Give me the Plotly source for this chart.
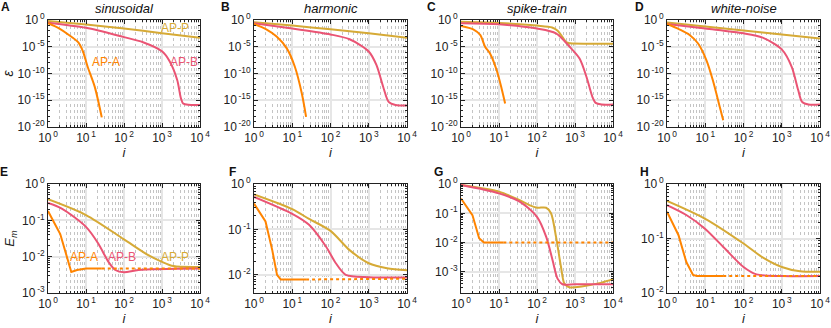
import plotly.graph_objects as go

# ---- data ----
titles = ["sinusoidal", "harmonic", "spike-train", "white-noise"]
letters_top = ["A", "B", "C", "D"]
letters_bot = ["E", "F", "G", "H"]

# top row: epsilon vs i
a_p_x = [1, 10, 100, 1000, 10000]
a_p_y = [6.3e-1, 1.4e-1, 2.5e-2, 3.5e-3, 5.0e-4]
a_b_x = [1, 10, 100, 316, 1000, 1585, 2512, 3162, 3600, 5000, 10000]
a_b_y = [3.2e-1, 3.5e-2, 6.3e-4, 7e-5, 1.4e-6, 2e-8, 6.3e-12, 2e-15, 2.5e-16, 1.4e-16, 1.3e-16]
a_a_x = [1, 2, 3.4, 6.2, 8.3, 11, 17, 26]
a_a_y = [2.5e-1, 2.5e-2, 2e-3, 7e-5, 1.4e-6, 2e-9, 3.2e-13, 6.3e-19]

b_p_x = [1, 10, 100, 1000, 10000]
b_p_y = [4e-1, 8.9e-2, 1.8e-2, 3.2e-3, 5e-4]
b_b_x = [1, 10, 100, 316, 1000, 1585, 2455, 3311, 5000, 10000]
b_b_y = [2.5e-1, 2.5e-2, 2e-3, 2.5e-4, 1.3e-6, 4e-9, 1.6e-13, 5e-16, 1.3e-16, 1e-16]
b_a_x = [1, 2.1, 3.9, 7.2, 11.7, 17.8, 23]
b_a_y = [1.8e-1, 1.8e-2, 8e-4, 5e-6, 1.8e-9, 1.8e-14, 8e-19]

c_p_x = [1, 10, 100, 250, 350, 480, 600, 750, 10000]
c_p_y = [4.5e-1, 2.8e-1, 8.9e-2, 4e-2, 1e-2, 5e-4, 6.3e-5, 4.5e-5, 3.5e-5]
c_b_x = [1, 10, 100, 316, 724, 1318, 2000, 2884, 3500, 5000, 10000]
c_b_y = [2.5e-1, 1.6e-1, 2.5e-2, 3.2e-3, 1e-5, 6.3e-8, 2.5e-11, 4e-15, 3.2e-16, 1.6e-16, 1.6e-16]
c_a_x = [1, 2.1, 3.2, 4.3, 5.8, 8.7, 11.7, 14.5]
c_a_y = [8e-2, 1.8e-2, 1.6e-3, 1e-5, 5.6e-7, 4e-10, 1.6e-13, 2.5e-16]

d_p_x = [1, 10, 100, 1000, 10000]
d_p_y = [3.5e-1, 6.3e-2, 1.1e-2, 2e-3, 3.5e-4]
d_b_x = [1, 10, 100, 316, 1000, 1820, 2690, 3400, 5000, 10000]
d_b_y = [1.8e-1, 2.5e-2, 3.2e-3, 5e-4, 3.2e-6, 1.8e-9, 8e-14, 5e-16, 1.6e-16, 1.6e-16]
d_a_x = [1, 2.1, 3.9, 6.5, 10.7, 15.8, 24, 29.5]
d_a_y = [1.8e-1, 1.8e-2, 1.6e-3, 4e-5, 3.2e-8, 5.6e-12, 5.6e-17, 1.8e-19]

# bottom row: E_m vs i
e_p_x = [1, 10, 100, 436, 1000, 2000, 10000]
e_p_y = [3.8e-1, 1.4e-1, 3e-2, 1.1e-2, 7.2e-3, 5.5e-3, 5.2e-3]
e_b_x = [1, 2.3, 10, 21, 39, 59, 100, 240, 10000]
e_b_y = [3e-1, 2.1e-1, 6.6e-2, 2.3e-2, 7.2e-3, 4.3e-3, 3.7e-3, 4.3e-3, 4.7e-3]
e_a_x = [1, 2.1, 4.1, 5.8, 10, 26]
e_a_y = [1.8e-1, 4.2e-2, 3.8e-3, 4.3e-3, 4.7e-3, 4.7e-3]
e_a_tail_x = [26, 10000]
e_a_tail_y = [4.7e-3, 4.7e-3]

f_p_x = [1, 10, 27.5, 100, 316, 1000, 3000, 10000]
f_p_y = [5.9e-1, 2.8e-1, 1.7e-1, 9.3e-2, 3.5e-2, 1.8e-2, 1.4e-2, 1.26e-2]
f_b_x = [1, 10, 27.5, 76, 138, 250, 1000, 10000]
f_b_y = [5.2e-1, 2.2e-1, 1.26e-1, 4.2e-2, 1.8e-2, 1e-2, 8.9e-3, 8.7e-3]
f_a_x = [1, 2, 3, 4, 5, 6, 23]
f_a_y = [3.7e-1, 1.5e-1, 3.5e-2, 1e-2, 7.9e-3, 7.9e-3, 7.9e-3]
f_a_tail_x = [23, 10000]
f_a_tail_y = [7.9e-3, 8.2e-3]

g_p_x = [1, 10, 35, 63, 100, 174, 234, 316, 427, 525, 708, 1500, 5000, 10000]
g_p_y = [9.3e-1, 5.5e-1, 2.8e-1, 1.9e-1, 1.55e-1, 1.55e-1, 1e-1, 1.6e-2, 1.5e-3, 4e-4, 3e-4, 3.2e-4, 4.3e-4, 5.6e-4]
g_b_x = [1, 10, 35, 100, 174, 257, 347, 468, 1000, 10000]
g_b_y = [9.3e-1, 4.8e-1, 2.5e-1, 7.6e-2, 1.6e-2, 2.5e-3, 5.9e-4, 3.8e-4, 3.8e-4, 3.8e-4]
g_a_x = [1, 2, 3, 4, 13]
g_a_y = [3.2e-1, 8.7e-2, 1.4e-2, 1e-2, 1e-2]
g_a_tail_x = [13, 10000]
g_a_tail_y = [1e-2, 1e-2]

h_p_x = [1, 10, 100, 316, 1000, 3000, 10000]
h_p_y = [4.9e-1, 2.3e-1, 8.1e-2, 4.5e-2, 3e-2, 2.5e-2, 2.45e-2]
h_b_x = [1, 3.2, 10, 35, 100, 219, 1000, 10000]
h_b_y = [4.1e-1, 2.7e-1, 1.5e-1, 6.2e-2, 3e-2, 2.2e-2, 2.05e-2, 2.05e-2]
h_a_x = [1, 2, 3.2, 4.8, 6, 29.5]
h_a_y = [3.1e-1, 1.15e-1, 3.7e-2, 2.15e-2, 2.05e-2, 2.05e-2]
h_a_tail_x = [29.5, 10000]
h_a_tail_y = [2.05e-2, 2.05e-2]

top_series = [
    (a_p_x, a_p_y, a_b_x, a_b_y, a_a_x, a_a_y),
    (b_p_x, b_p_y, b_b_x, b_b_y, b_a_x, b_a_y),
    (c_p_x, c_p_y, c_b_x, c_b_y, c_a_x, c_a_y),
    (d_p_x, d_p_y, d_b_x, d_b_y, d_a_x, d_a_y),
]
bot_series = [
    (e_p_x, e_p_y, e_b_x, e_b_y, e_a_x, e_a_y, e_a_tail_x, e_a_tail_y),
    (f_p_x, f_p_y, f_b_x, f_b_y, f_a_x, f_a_y, f_a_tail_x, f_a_tail_y),
    (g_p_x, g_p_y, g_b_x, g_b_y, g_a_x, g_a_y, g_a_tail_x, g_a_tail_y),
    (h_p_x, h_p_y, h_b_x, h_b_y, h_a_x, h_a_y, h_a_tail_x, h_a_tail_y),
]
# log10 y-ranges of bottom panels
bot_yrange = [(-3, 0), (-2.4, 0), (-3.72, 0), (-2, 0)]

x_ticks = [1, 10, 100, 1000, 10000]
x_ticktext = ["10<sup>\u2009%d</sup>" % k for k in range(5)]

C_A = "#ff8400"
C_B = "#ea5474"
C_P = "#d6aa36"
FONT = "Liberation Sans, Arial, sans-serif"
TXT = "#222222"

W, H = 831, 328
x_dom_px = [(48, 200), (254, 407), (461, 613), (667, 820)]
top_px = (20, 127)
bot_px = (184, 293)


def px_x(p):
    return p / W


def px_y(p):
    return 1 - p / H


fig = go.Figure()
layout = dict(
    template="none",
    width=W, height=H, margin=dict(l=0, r=0, t=0, b=0, pad=0),
    paper_bgcolor="white", plot_bgcolor="white", showlegend=False,
    font=dict(family=FONT, size=12, color=TXT),
)
annotations = []


def axis_common():
    return dict(
        type="log", automargin=False, showline=True, linecolor="#222", linewidth=1,
        mirror="allticks", ticks="inside", ticklen=4, tickcolor="#222", tickwidth=0.8,
        showgrid=True, gridcolor="#e6e6e6", gridwidth=1.5,
        zeroline=False, tickfont=dict(family=FONT, size=12, color=TXT),
        fixedrange=True,
    )


def exp_label(e):
    return "10<sup>\u2009%d</sup>" % e if e == 0 else "10<sup>\u2009-%d</sup>" % -e


for k in range(8):
    row = k // 4
    col = k % 4
    n = k + 1
    xa = "x" if n == 1 else "x%d" % n
    ya = "y" if n == 1 else "y%d" % n
    xkey = "xaxis" if n == 1 else "xaxis%d" % n
    ykey = "yaxis" if n == 1 else "yaxis%d" % n

    xd = [px_x(x_dom_px[col][0]), px_x(x_dom_px[col][1])]
    ypx = top_px if row == 0 else bot_px
    yd = [px_y(ypx[1]), px_y(ypx[0])]

    xax = axis_common()
    xax.update(domain=xd, anchor=ya, range=[0, 4], tickvals=x_ticks, ticktext=x_ticktext,
               minor=dict(dtick="D1", ticks="inside", ticklen=2, tickcolor="#222",
                          showgrid=True, gridcolor="#c4c4c4", griddash="dot", gridwidth=0.6),
               title=dict(text="<i>i</i>", standoff=1, font=dict(size=13, color=TXT)))
    yax = axis_common()
    if row == 0:
        exps = [0, -5, -10, -15, -20]
        yax.update(domain=yd, anchor=xa, range=[-20, 0], tickvals=[10.0 ** e for e in exps],
                   ticktext=[exp_label(e) for e in exps],
                   minor=dict(dtick=1, ticks="inside", ticklen=2, tickcolor="#222", showgrid=False))
        if col == 0:
            yax["title"] = dict(text="<i>ε</i>", standoff=4, font=dict(size=14, color=TXT))
    else:
        lo, hi = bot_yrange[col]
        exps = [e for e in range(0, -5, -1) if e >= lo - 1e-9]
        yax.update(domain=yd, anchor=xa, range=[lo, hi], tickvals=[10.0 ** e for e in exps],
                   ticktext=[exp_label(e) for e in exps],
                   minor=dict(dtick="D1", ticks="inside", ticklen=2, tickcolor="#222", showgrid=False))
        if col == 0:
            yax["title"] = dict(text="<i>E<sub>m</sub></i>", standoff=4, font=dict(size=13, color=TXT))
    layout[xkey] = xax
    layout[ykey] = yax

    if row == 0:
        px_, py_, bx, by, ax_, ay = top_series[col]
        for xs, ys, c in [(px_, py_, C_P), (bx, by, C_B), (ax_, ay, C_A)]:
            fig.add_trace(go.Scatter(x=xs, y=ys, mode="lines", xaxis=xa, yaxis=ya,
                                     line=dict(color=c, width=2, shape="spline", smoothing=0.8),
                                     hoverinfo="skip"))
        annotations.append(dict(text="<i>%s</i>" % titles[col], xref="paper", yref="paper",
                                x=(xd[0] + xd[1]) / 2, y=px_y(8), showarrow=False,
                                font=dict(size=13, color="#111"), xanchor="center", yanchor="middle"))
        lab_x = [5, 225, 431, 639][col]
        annotations.append(dict(text="<b>%s</b>" % letters_top[col], xref="paper", yref="paper",
                                x=px_x(lab_x), y=px_y(7), showarrow=False,
                                font=dict(size=12, color="#111"), xanchor="center", yanchor="middle"))
    else:
        px_, py_, bx, by, ax_, ay, tx, ty = bot_series[col]
        for xs, ys, c, shp in [(px_, py_, C_P, "spline"), (bx, by, C_B, "spline"), (ax_, ay, C_A, "linear")]:
            fig.add_trace(go.Scatter(x=xs, y=ys, mode="lines", xaxis=xa, yaxis=ya,
                                     line=dict(color=c, width=2, shape=shp, smoothing=0.8),
                                     hoverinfo="skip"))
        fig.add_trace(go.Scatter(x=tx, y=ty, mode="lines", xaxis=xa, yaxis=ya,
                                 line=dict(color=C_A, width=2, dash="dot"), hoverinfo="skip"))
        lab_x = [4, 232, 438, 644][col]
        annotations.append(dict(text="<b>%s</b>" % letters_bot[col], xref="paper", yref="paper",
                                x=px_x(lab_x), y=px_y(172), showarrow=False,
                                font=dict(size=12, color="#111"), xanchor="center", yanchor="middle"))

# curve labels in A and E
for txt, c, xl, yl, xr, yr in [
    ("AP-P", C_P, 3.34, -1.5, "x", "y"),
    ("AP-A", C_A, 1.53, -7.85, "x", "y"),
    ("AP-B", C_B, 3.58, -7.85, "x", "y"),
    ("AP-A", C_A, 0.94, -2.01, "x5", "y5"),
    ("AP-B", C_B, 1.96, -2.01, "x5", "y5"),
    ("AP-P", C_P, 3.35, -2.01, "x5", "y5"),
]:
    annotations.append(dict(text=txt, x=xl, y=yl, xref=xr, yref=yr, showarrow=False,
                            font=dict(size=12, color=c), xanchor="center", yanchor="middle"))

layout["annotations"] = annotations
fig.update_layout(**layout)
# drop the browser's default 8px body margin so the figure fills the window
fig.write_html("out.html", config={"displayModeBar": False},
               post_script="document.body.style.margin='0';")
